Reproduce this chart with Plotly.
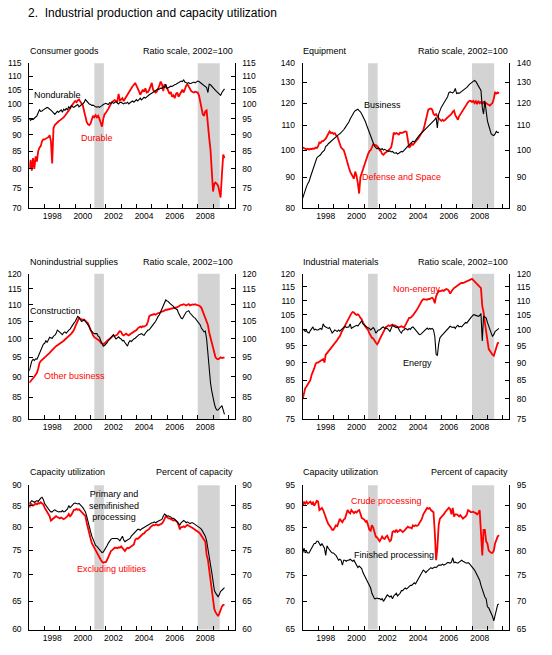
import numpy as np
import pandas as pd
import plotly.graph_objects as go

START = "1997-01-01"
END = "2010-05-28"

# ---------------- data (monthly, Jan 1997 - Oct 2009) ----------------
nondurable = [
    95, 94.5, 95, 94.8, 95.2, 95.5, 96, 97, 98, 97.5, 97.6, 98,
    98.2, 98.5, 98.8, 98.6, 98.3, 97.8, 97.5, 97, 96.5, 97, 97.5, 97.2,
    97.5, 98, 97.2, 98.2, 97.8, 98.5, 98, 99, 98.5, 99.5, 99, 98.8,
    99.2, 99.5, 99.8, 99, 99.5, 99.8, 100, 100.5, 101.5, 101, 100.3, 100,
    99.8, 99.5, 99.6, 99.2, 99, 98.9, 99.1, 98.8, 99, 99.4, 99.8, 100,
    100.2, 100, 99.8, 100.4, 100.2, 100.6, 100.2, 100.5, 100.8, 100.3, 100, 100.5,
    100.6, 100.2, 100, 100.4, 100.2, 100.6, 100, 100.4, 100.8, 101, 100.6, 101.2,
    101.5, 101, 101.6, 102, 101.4, 102, 102.3, 102, 102.5, 103, 103.2, 103.5,
    103.8, 104, 104.2, 104.8, 105, 105.3, 105.2, 105.6, 105.5, 106, 105.8, 107,
    105.5, 105.8, 106, 106.3, 106.2, 106.6, 106.8, 107, 107.3, 107.5, 107.8, 108.2,
    108, 108.6, 107.8, 107.5, 107.3, 107.6, 107.2, 107.4, 107.6, 107.8, 107.5, 108,
    108.2, 108, 107.6, 107.4, 107, 106.5, 106.2, 105.8, 104, 107, 106.8, 106.2,
    105.8, 105.2, 104.8, 104.3, 103.8, 103.2, 103, 104, 104.8, 105.3,
]
durable = [
    80, 82.5, 79.5, 83, 80, 83.5, 82, 85, 86, 86.5, 88, 88.5,
    88.5, 88.8, 89, 89.2, 89.8, 88, 81.5, 92, 93, 93.5, 93.8, 94.2,
    94.5, 94.8, 95.3, 95.5, 96, 96.5, 97, 97.8, 98.5, 99.3, 100, 100.5,
    101, 100.6, 101.2, 101.5, 100.8, 100.2, 99.5, 97.5, 95.5, 94, 93.2, 93,
    93.5, 94.8, 96, 95.5, 96.2, 95.5, 96, 95, 93.8, 92.5, 95, 96.5,
    97, 97.5, 98.3, 99.2, 100, 100.8, 101, 101.3, 101, 100.8, 103.5, 101.2,
    101.5, 102, 101, 101.8, 102.5, 103.3, 104, 104.8, 105.5, 106.3, 106.8, 107.5,
    106.5, 105, 104.5, 103.2, 104, 105, 104.3, 105.5, 104, 104.2, 105, 106,
    107.5, 105, 104.5, 104, 104.3, 105.2, 106.5, 108, 107, 104.5, 107, 106,
    105.5, 104.5, 103.5, 104.2, 102.5, 103, 102, 103.5, 104, 102.5, 103.5, 104.5,
    105, 104, 105.5, 106.5, 107, 106, 105, 104.5, 104.2, 104, 104.3, 104,
    104, 103, 100.5, 98.5, 96.5, 96, 97.5, 97.8, 92, 89, 85.5, 79.5,
    74, 76, 76.3, 76, 75.5, 74, 72.5, 78.5, 84, 83,
]
business = [
    83, 84.5, 86, 86.8, 87.8, 88.5, 90, 91.5, 93, 94.5, 96, 97,
    97.5, 97.8, 98.2, 99, 99.5, 100, 101.5, 101.8, 102.5, 103, 103.5, 104,
    104.5, 105, 105.5, 106, 106.2, 106.5, 107, 107.5, 108.2, 109, 109.8, 110.5,
    111.5, 112.8, 114, 115, 115.8, 116.5, 117, 117.2, 116.5, 116, 115, 114,
    113, 111.5, 110, 108.5, 107, 105.5, 104, 102.8, 101.5, 101, 100.5, 100.8,
    100.5, 100.2, 100.6, 100, 100.3, 99.8, 99.7, 99.5, 99.7, 99.3, 99.5, 99,
    98.8, 99, 98.5, 98.8, 99, 99.5, 99.3, 100, 100.5, 101, 101.5, 102,
    102.5, 103, 103.5, 103.2, 104, 104.5, 105.5, 106, 106.5, 107, 107.5, 108,
    108.5, 109, 109.5, 110, 110.5, 111.2, 112, 112.5, 113.5, 109, 115, 117,
    118, 119, 120, 120.5, 121.5, 123, 125, 125.3, 125, 124.8, 125.5, 127,
    124.5, 124.8, 124.6, 125, 125.5, 126, 126.5, 127, 127.5, 128.5, 129, 129.5,
    130, 130.2, 131, 130.5, 129.5, 128.5, 127.5, 126, 118, 115, 121, 116,
    112, 110, 108, 106.5, 106, 105.8, 106.5, 107.5, 107, 107.2,
]
defense_space = [
    101, 100.8, 100.5, 100.3, 100.5, 100.2, 100.5, 100.4, 100.6, 100.5, 101, 100.8,
    101.5, 103, 102.8, 103.5, 103.5, 104, 104.5, 105.5, 106.5, 107.5, 106.8, 107,
    106.5, 106.8, 106, 105.5, 104, 102, 101, 100.5, 100, 98.5, 96.5, 95,
    93.5, 92, 91, 90, 89.5, 92, 90.5, 88, 84.5, 90, 91.5, 93,
    94.5, 96, 97.5, 98.5, 99.5, 100, 101, 102.5, 101.8, 102, 101.5, 101,
    100, 99.5, 98.5, 98.2, 98.8, 99, 99.5, 100, 100.5, 101, 103.5, 107,
    106.5, 106.8, 106.5, 106.2, 107, 106.8, 107, 107.2, 107.5, 107.3, 103, 101,
    101.5, 102.5, 102, 102.8, 103.5, 104, 104.5, 105.5, 106.5, 107, 108, 110,
    112, 114.5, 117, 117.3, 117.5, 117, 115, 114.5, 115, 114, 113, 112.5,
    112, 112.5, 112, 112.3, 113, 113.5, 114, 114.5, 115, 116, 116.5, 114.5,
    113.5, 112.5, 114, 115, 116, 117, 118, 119, 119.5, 120.5, 121, 121,
    120.5, 121, 120, 120.8, 119.5, 121, 120, 120.5, 119.5, 120.8, 119.5, 120,
    119.5, 119, 118.8, 119.5, 120, 122, 125, 124.5, 125, 124.5,
]
construction = [
    91.5, 93, 94, 94.5, 94.2, 94.6, 94.5, 95.2, 96, 97, 97.8, 98.5,
    98.8, 99.5, 99, 99.8, 100.5, 100.3, 100.2, 100.8, 101, 101.5, 102.5, 102.2,
    101.8, 101.5, 101.2, 101.8, 102, 101.6, 102.2, 102.5, 102.8, 103.5, 104, 104.5,
    105, 105.8, 106.5, 106.2, 105.5, 105, 105.2, 105.5, 105, 104.5, 104, 103.5,
    102.5, 102, 101.8, 101.5, 101.6, 101.5, 100.8, 100.5, 99.5, 98.5, 98, 98.2,
    98.5, 99, 99.5, 100, 100.5, 101, 101.2, 100.5, 100, 100.3, 100.6, 100.2,
    100, 99.5, 99.6, 99, 98.5, 98, 99, 99.5, 99.3, 99.8, 100, 100.2,
    100.5, 101, 101.2, 101.3, 101.5, 101.2, 101, 101.6, 102.2, 102.5, 102.6, 103,
    103.5, 104, 104.5, 105, 106, 106.5, 107, 108, 109, 110, 110.8, 111.5,
    111.2, 111, 110.5, 110.2, 109.8, 109.5, 109, 108.8, 108.5, 107.5, 106.5, 106,
    105.8, 106.5, 107.5, 107.8, 108, 108.2, 107.5, 107, 106.5, 106.2, 106, 105.5,
    105.2, 104.8, 104, 103, 102.5, 102, 102.2, 100, 96, 91.5, 88.5, 86.5,
    84.5, 83.5, 82.5, 82, 82, 82.3, 82.8, 83, 82, 81,
]
other_business = [
    88.5, 88.8, 89.2, 89.6, 90, 90.5, 91, 92, 93.5, 94, 94.3, 94.6,
    94.8, 95.2, 95.5, 95.8, 96.2, 96.6, 97, 97.5, 97.7, 98, 98.2, 98.5,
    98.7, 99, 99.2, 99.5, 99.8, 100.2, 100.5, 100.8, 101, 101.5, 102, 102.5,
    103.5, 104.5, 105.5, 106, 105.8, 105.6, 105.5, 105.5, 105.2, 105, 104.5, 103.5,
    102.5, 101.8, 101, 100.5, 100.3, 100, 99.8, 99.5, 99, 98.7, 98.5, 98.8,
    99.2, 99.5, 99.8, 100, 100.4, 100.6, 101, 100.8, 101, 101.2, 101.8, 102.2,
    102, 101.2, 101, 101.3, 101.5, 101.2, 101, 101.3, 101.5, 101.8, 102, 102.2,
    102.5, 103, 103.2, 103.5, 103.3, 103.6, 103.5, 103.8, 104, 105, 106.5, 106.8,
    107, 107, 107.2, 107, 107.3, 107.5, 107.5, 107.8, 108, 108, 108.3, 108.5,
    108.5, 108.6, 108.5, 108.7, 108.8, 109, 109, 109.2, 109.3, 109.5, 109.8, 110,
    110, 110.2, 110, 109.8, 110, 110.2, 109.8, 110, 110.1, 110, 110.2, 110,
    110, 109.8, 109.5, 109, 108, 107, 106.3, 105.5, 104, 101.8, 100.2, 99,
    97, 95.5, 95, 94.6, 94.5, 94.7, 95, 94.8, 95, 95,
]
non_energy = [
    80, 82, 82.8, 83.3, 83.8, 84.5, 85, 86.5, 87.2, 88.3, 89.5, 90,
    90, 90.2, 90.5, 90.8, 91, 90, 92.3, 92.8, 93.3, 93.8, 94.3, 94.6,
    95, 95.5, 96, 96.8, 97.5, 98, 99, 99.8, 100.5, 101.5, 102.5, 103.3,
    104, 104.8, 105.5, 106, 105.8, 105.3, 105, 105.2, 104.8, 104, 103.5, 102.5,
    101.5, 101, 100.5, 100, 99, 98, 97.5, 97.3, 96.5, 96, 95.5, 96,
    97, 97.8, 98.5, 99.2, 100, 101, 101.2, 101.5, 101.3, 101.5, 101.8, 101.5,
    101.5, 101.2, 101, 100.8, 101, 101.2, 101, 100.8, 101.5, 102.5, 103.5, 104,
    104, 104.3, 104.8, 105.5, 106, 106.8, 107.5, 108.5, 109.3, 110, 110.5, 110.5,
    110.5, 110.3, 110.6, 110.5, 110.8, 111, 110.5, 109, 111.5, 112.5, 113.5, 113.3,
    113.5, 113.7, 113.5, 114, 114.2, 114, 113.5, 112.5, 113.5, 114, 114.5, 115,
    115.2, 115.6, 116, 116.3, 116.5, 116.4, 116.6, 116.8, 117, 117.2, 117.5, 117.8,
    118, 117.5, 117, 116.5, 116, 115.5, 115, 114.5, 108, 106, 102.5, 99,
    95.5, 94, 93.5, 92.8, 92.3, 92, 93, 94.5, 95.8, 96,
]
energy = [
    100, 100.2, 99.5, 99.8, 99.2, 99, 99.8, 100.5, 101, 100, 100.3, 100,
    100, 100.3, 100.5, 100.2, 102, 101.2, 101, 100.8, 100.5, 100.8, 100, 99,
    99.5, 100, 99.8, 99.5, 100, 99.6, 100, 100.5, 101, 101.2, 100.8, 101,
    101, 102, 100.5, 100.8, 101, 101.2, 101.5, 101.3, 101.8, 102.5, 103, 102,
    101.5, 101.3, 101, 100.8, 100.5, 100, 100.5, 100.8, 100.2, 99, 99.5, 100,
    100, 100.5, 100.8, 101, 100.5, 100.6, 100.5, 100, 99.5, 100.5, 101.5, 101.2,
    101, 100.8, 101, 100, 99.5, 99, 99.8, 100, 100.5, 100.3, 100, 100.5,
    100.2, 100.8, 101, 100.5, 100, 99.5, 99, 98.5, 98.6, 99, 99.5, 100,
    100.5, 100.6, 100.2, 100.5, 100.3, 100.5, 100, 98, 92.5, 92, 95.5, 97.5,
    98, 98.5, 99, 99.5, 100, 100.5, 101, 101.2, 101, 100.8, 101, 100.5,
    101.2, 101.5, 101, 101.2, 101, 101.5, 102, 102.5, 102.3, 103, 103.5, 104,
    104.5, 105, 105, 104.8, 104.5, 104.5, 104.8, 105.5, 96.5, 104.5, 104.3, 104,
    102.5, 101, 100, 99, 98, 98.5, 99.5, 99.8, 100.2, 100.5,
]
primary_semifinished = [
    85.5, 86, 86.2, 86, 85.8, 86, 86.2, 86, 86.5, 86.8, 87, 86.5,
    85.5, 85, 84.5, 84, 83.8, 83.5, 83.5, 83.8, 84, 83.8, 83.6, 83.5,
    83.6, 83.5, 83.8, 83.5, 83.6, 84, 84.2, 85, 84.5, 84.8, 85.2, 85.5,
    85.6, 85.5, 85.4, 85.5, 85.2, 85, 84.5, 84, 83.5, 82.5, 81.5, 80,
    79, 78, 77.2, 76.5, 76, 75.8, 75.5, 75, 74.7, 74.5, 74.6, 75,
    75.5, 76, 76.5, 77, 77.3, 77.5, 77.5, 77.6, 77.5, 77.5, 77.3, 77,
    77.5, 78, 77.2, 76.8, 77, 77.2, 77.3, 77.5, 78, 78.3, 78.6, 79,
    79.2, 79.5, 79.5, 79.3, 79.6, 79.8, 80, 80, 80.2, 80.5, 80.6, 80.8,
    81, 81, 81.2, 81, 81.2, 81.5, 81.5, 81.6, 81.8, 82.5, 83, 82.8,
    82.5, 82.6, 82.5, 82.3, 82, 82, 81.8, 81.5, 81.2, 81, 80.5, 81,
    81.2, 81.5, 81.3, 81, 81.2, 81, 80.8, 81, 81, 80.8, 80.6, 80.5,
    80.2, 80, 79.8, 79.5, 79, 78.6, 78, 77, 75, 73.5, 72, 70.5,
    68.5, 67, 66.5, 66, 65.8, 66.2, 66.8, 67, 67.3, 67.5,
]
excluding_utilities = [
    84.5, 85.5, 85.3, 85, 85.2, 85.5, 85.3, 85.6, 85.5, 85.8, 85.5, 85.3,
    84.5, 84, 83.5, 83, 82.5, 81.5, 81.8, 82, 82.3, 82.5, 82.3, 82.2,
    82, 82.2, 82, 81.8, 82, 82.2, 82.5, 83, 82.5, 82.8, 83.5, 84,
    84, 84.2, 84, 84.1, 83.8, 83.5, 83.2, 83, 82.5, 81, 80, 78.5,
    77.5, 76.5, 76, 75.5, 74.8, 74.3, 74, 73.5, 73, 72.6, 72.4, 72.5,
    72.5, 73, 73.5, 74, 74.8, 75, 75.3, 75.5, 75.5, 75.4, 75.6, 75.5,
    75.8, 75.5, 75, 74.8, 75.2, 75.5, 75.4, 75.6, 75.8, 76, 76.2, 77.2,
    77.5, 77.4, 77.6, 77.8, 78.2, 78.5, 78.6, 79, 79.2, 79.5, 79.6, 80,
    80.3, 80.5, 80.4, 80.5, 80.6, 80.4, 80.5, 80.6, 80.8, 81.2, 82, 82.5,
    82.3, 82, 82, 81.8, 81.5, 81.5, 81.6, 81.4, 81.2, 80.5, 79.5, 80,
    80, 80.2, 80, 80.3, 80.5, 80.3, 80.2, 80, 79.8, 79.6, 79.5, 79.3,
    79, 78.8, 78.5, 78, 77.6, 77.3, 76.8, 74, 73, 71, 69, 67,
    65, 63.5, 63, 62.5, 62.3, 62.8, 63.5, 64, 64.3, 64.3,
]
crude_processing = [
    90, 91, 90.5, 91, 90.5, 90.8, 91, 90.5, 90.8, 90, 90.5, 91.2,
    91, 89, 89.2, 89.5, 89, 88, 87, 86.5, 85.8, 85.5, 85, 84.5,
    84.5, 85, 85.5, 85.3, 86, 87, 86.5, 86.2, 86.8, 87, 88, 89,
    88.5, 88.2, 89, 88.5, 88.3, 88.6, 88.4, 88.8, 89, 88.2, 87.2, 87,
    86.8, 86.3, 86.5, 85.5, 84.5, 84.3, 85.5, 85, 84, 83, 82.8, 82.5,
    82, 82.5, 83, 82.6, 82.5, 83, 83.2, 82.5, 82, 82.3, 84, 84.2,
    84, 84.5, 84, 84.2, 84.5, 84.3, 84, 84.2, 84.5, 85, 85.2, 85,
    85, 84.8, 85.5, 85.3, 85.5, 85.4, 85.5, 86, 86.5, 87, 88, 88.5,
    89, 89.5, 89.3, 89.5, 89, 88.8, 88.5, 84, 78, 80.5, 85.5, 87,
    87.3, 87.5, 88, 88.5, 88.8, 89, 89.5, 89.2, 88, 89.5, 87.5, 88,
    88, 87.8, 87.5, 87.8, 87.3, 87, 87.3, 87.5, 88, 89, 88.8, 88.5,
    88.5, 88.6, 88.4, 88.3, 88, 88.3, 89, 83, 79, 84.5, 84.5, 82,
    81.5, 80, 79.8, 79.5, 79.5, 80, 81.5, 82.5, 83, 83.3,
]
finished_processing = [
    79.5, 80.5, 79.5, 79.8, 79.5, 79.5, 80, 80.5, 81, 81.5, 81.5, 82,
    82, 81.5, 81, 81.5, 81, 80.5, 79, 81, 80.5, 80, 79.8, 79.5,
    79.5, 79.2, 79, 78.5, 78, 78.2, 78, 77, 78, 78, 77.8, 78,
    78, 78.2, 78, 77.8, 78, 77.5, 77.3, 76.5, 76.8, 76.5, 76.3, 75.5,
    75, 74.5, 74, 73.5, 73, 72.5, 71.5, 71, 70.5, 70.5, 70.6, 70.5,
    70.5, 70.3, 70.5, 70, 70.5, 71, 71.2, 71, 70.8, 71, 70.5, 71,
    71.3, 71.5, 71, 71.2, 71.5, 72, 72, 72.3, 72.5, 72.3, 72.5, 72.8,
    73, 73, 73.2, 73.5, 73.3, 73.8, 74, 74.5, 75, 75.5, 76, 75.8,
    75.5, 75.8, 76, 76.2, 76.5, 76.3, 76.5, 76.6, 76.5, 76.8, 77, 77,
    77, 77.2, 77, 77.1, 77.3, 77.5, 77.5, 77.4, 77.6, 78.5, 77.5, 77.6,
    77.5, 77.4, 77.6, 77.8, 78, 77.8, 77.6, 77.5, 77.4, 77.5, 77.3, 77,
    76.8, 76.5, 76, 75.5, 75, 74.5, 74, 73, 72.2, 71.5, 70.8, 70.5,
    69, 68.8, 68.4, 68, 67.3, 66.5, 67.5, 68.8, 69.4, 69.5,
]

recessions = [("2001-04-01", "2001-11-15"), ("2008-01-01", "2009-06-10")]
label_years = [1998, 2000, 2002, 2004, 2006, 2008]
tick_years = list(range(1998, 2011))

ticks_p1 = [70, 75, 80, 85, 90, 95, 100, 105, 110, 115]
ticks_p2 = [80, 90, 100, 110, 120, 130, 140]
ticks_p3 = [80, 85, 90, 95, 100, 105, 110, 115, 120]
ticks_p4 = [75, 80, 85, 90, 95, 100, 105, 110, 115, 120]
ticks_p5 = [60, 65, 70, 75, 80, 85, 90]
ticks_p6 = [65, 70, 75, 80, 85, 90, 95]

RED = "#FF0000"
BLACK = "#000000"
FONT = "Liberation Sans, Arial, sans-serif"

W, H = 552, 655
def px_x(p):
    return p / W
def px_y(p):
    return 1 - p / H

col_x = [(29.3, 234.5), (302.7, 509.0)]
row_y = [(59.2, 205.8), (272.8, 420.3), (487.7, 634.2)]

panels = [
    dict(title="Consumer goods", unit="Ratio scale, 2002=100", ticks=ticks_p1, col=0, row=0,
         series=[(durable, RED), (nondurable, BLACK)],
         labels=[("Nondurable", "1997-03-10", 103.0, BLACK, "left"),
                 ("Durable", "2001-06-05", 89.0, RED, "center")]),
    dict(title="Equipment", unit="Ratio scale, 2002=100", ticks=ticks_p2, col=1, row=0,
         series=[(defense_space, RED), (business, BLACK)],
         labels=[("Business", "2002-03-05", 119.0, BLACK, "center"),
                 ("Defense and Space", "2003-06-05", 90.2, RED, "center")]),
    dict(title="Nonindustrial supplies", unit="Ratio scale, 2002=100", ticks=ticks_p3, col=0, row=1,
         series=[(other_business, RED), (construction, BLACK)],
         labels=[("Construction", "1998-09-25", 108.1, BLACK, "center"),
                 ("Other business", "1999-12-15", 90.2, RED, "center")]),
    dict(title="Industrial materials", unit="Ratio scale, 2002=100", ticks=ticks_p4, col=1, row=1,
         series=[(non_energy, RED), (energy, BLACK)],
         labels=[("Non-energy", "2004-05-25", 114.1, RED, "center"),
                 ("Energy", "2004-06-05", 90.0, BLACK, "center")]),
    dict(title="Capacity utilization", unit="Percent of capacity", ticks=ticks_p5, col=0, row=2,
         series=[(excluding_utilities, RED), (primary_semifinished, BLACK)],
         labels=[("Primary and<br>semifinished<br>processing", "2002-07-25", 85.1, BLACK, "center"),
                 ("Excluding utilities", "2002-06-01", 71.1, RED, "center")]),
    dict(title="Capacity utilization", unit="Percent of capacity", ticks=ticks_p6, col=1, row=2,
         series=[(crude_processing, RED), (finished_processing, BLACK)],
         labels=[("Crude processing", "2002-06-01", 91.2, RED, "center"),
                 ("Finished processing", "2002-12-15", 79.1, BLACK, "center")]),
]

fig = go.Figure()
layout = dict(
    width=W, height=H, margin=dict(l=0, r=0, t=0, b=0),
    paper_bgcolor="white", plot_bgcolor="white", showlegend=False,
    font=dict(family=FONT, size=9, color="black"),
)
annotations = []
shapes = []

annotations.append(dict(text="2.  Industrial production and capacity utilization",
                        x=px_x(25.5), y=px_y(8.5), xref="paper", yref="paper",
                        xanchor="left", yanchor="middle", showarrow=False,
                        font=dict(size=12, family=FONT)))

header_y = [46.7, 261.0, 474.7]

for i, p in enumerate(panels):
    n = i + 1
    xs = "" if n == 1 else str(n)
    xid, yid = "x" + xs, "y" + xs
    yid_r = "y" + str(n + 6)
    x0, x1 = col_x[p["col"]]
    top, bot = row_y[p["row"]]
    lo, hi = p["ticks"][0], p["ticks"][-1]
    rng = [np.log10(lo), np.log10(hi)]

    layout["xaxis" + xs] = dict(
        domain=[px_x(x0), px_x(x1)], anchor=yid, type="date",
        range=[START, END], showgrid=False, zeroline=False,
        showline=True, linecolor="black", linewidth=1,
        tickmode="array",
        tickvals=[f"{y}-07-01" for y in label_years],
        ticktext=[str(y) for y in label_years],
        ticks="", tickfont=dict(size=8.5, family=FONT),
        minor=dict(tickmode="array", tickvals=[f"{y}-01-01" for y in tick_years],
                   ticks="inside", ticklen=4, tickwidth=1, tickcolor="black", showgrid=False),
    )
    yax = dict(
        domain=[px_y(bot), px_y(top)], anchor=xid, type="log", range=rng,
        showgrid=False, zeroline=False, showline=True, linecolor="black", linewidth=1,
        tickmode="array", tickvals=p["ticks"], ticktext=[str(t) for t in p["ticks"]],
        ticks="inside", ticklen=4, tickwidth=1, tickcolor="black",
        tickfont=dict(size=8.5, family=FONT), ticklabelstandoff=5,
    )
    layout["yaxis" + xs] = dict(yax, side="left")
    layout["yaxis" + str(n + 6)] = dict(yax, side="right", overlaying=yid)

    for (a, b) in recessions:
        shapes.append(dict(type="rect", xref=xid, yref=yid + " domain", x0=a, x1=b, y0=0, y1=1,
                           fillcolor="#D3D3D3", line=dict(width=0), layer="below"))

    for vals, color in p["series"]:
        dates = pd.date_range(START, periods=len(vals), freq="MS")
        fig.add_trace(go.Scatter(x=dates, y=vals, mode="lines", xaxis=xid, yaxis=yid,
                                 line=dict(color=color, width=1.8 if color == RED else 1.1),
                                 hoverinfo="skip"))
    # keeps the mirrored right-hand axis alive
    fig.add_trace(go.Scatter(x=[START], y=[lo], mode="markers", xaxis=xid, yaxis=yid_r,
                             marker=dict(opacity=0), hoverinfo="skip"))

    for text, xv, yv, color, anchor in p["labels"]:
        annotations.append(dict(text=text, x=xv, y=np.log10(yv), xref=xid, yref=yid,
                                xanchor=anchor, yanchor="middle", showarrow=False,
                                font=dict(size=9, color=color, family=FONT)))

    hy = px_y(header_y[p["row"]])
    annotations.append(dict(text=p["title"], x=px_x(x0 - 1.5), y=hy, xref="paper", yref="paper",
                            xanchor="left", yanchor="middle", showarrow=False,
                            font=dict(size=9, family=FONT)))
    annotations.append(dict(text=p["unit"], x=px_x(x1 + 0.5), y=hy, xref="paper", yref="paper",
                            xanchor="right", yanchor="middle", showarrow=False,
                            font=dict(size=9, family=FONT)))

layout["annotations"] = annotations
layout["shapes"] = shapes
fig.update_layout(**layout)
fig.write_html("out.html")
